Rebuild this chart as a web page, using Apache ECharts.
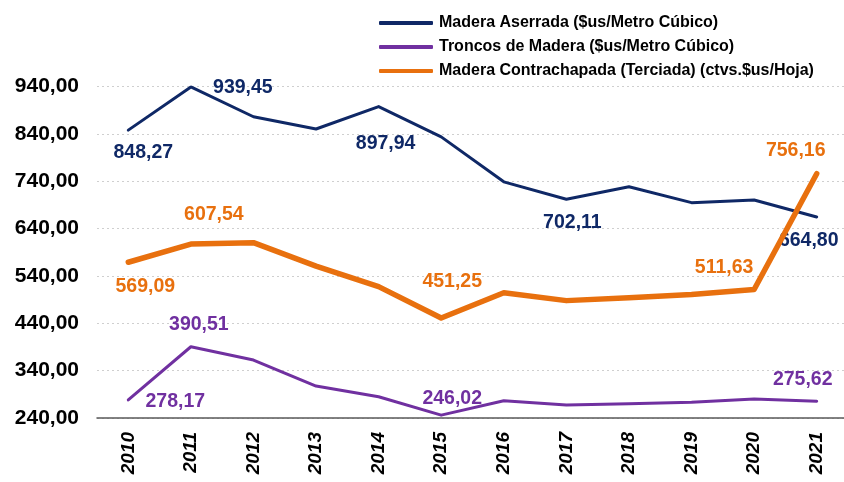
<!DOCTYPE html>
<html>
<head>
<meta charset="utf-8">
<script src="https://cdn.jsdelivr.net/npm/echarts@6/dist/echarts.min.js"></script>
<style>
html,body{margin:0;padding:0;background:#fff;}
#chart{width:844px;height:482px;}
</style>
</head>
<body>
<div id="chart"></div>
<script>
var years = ['2010','2011','2012','2013','2014','2015','2016','2017','2018','2019','2020','2021'];
var seriesNames = ['Madera Aserrada ($us/Metro Cúbico)','Troncos de Madera ($us/Metro Cúbico)','Madera Contrachapada (Terciada) (ctvs.$us/Hoja)'];
var aserrada = [848.27, 939.45, 876.5, 850.6, 897.94, 834.0, 739.0, 702.11, 728.5, 695.0, 700.5, 664.80];
var troncos = [278.17, 390.51, 362.5, 307.5, 285.0, 246.02, 276.5, 267.5, 270.0, 273.5, 280.0, 275.62];
var contrachapada = [569.09, 607.54, 610.4, 561.0, 517.5, 451.25, 504.5, 488.0, 494.0, 501.0, 511.63, 756.16];
var yTicks = [240, 340, 440, 540, 640, 740, 840, 940];

// which points carry a value label, with label offsets (dx, dy) from the point
var aserradaLabels = {0:[15,23], 1:[52,1], 4:[7,37], 7:[6,23], 11:[-8,24]};
var troncosLabels = {0:[47,2], 1:[8,-22], 5:[11,-17], 11:[-14,-22]};
var contraLabels = {0:[17,24], 1:[23,-29], 5:[11,-36], 10:[-30,-22], 11:[-21,-23]};

var colNavy = '#0f2866';
var colPurple = '#7030a0';
var colOrange = '#e8700e';
var FONT = 'Liberation Sans, Arial, sans-serif';

function fmt(v){ return v.toFixed(2).replace('.', ','); }

function buildData(values, labels, color){
  return values.map(function(v, i){
    var item = {value: v};
    if (labels[i]) {
      item.label = {
        show: true,
        position: 'inside',
        offset: labels[i],
        color: color,
        fontSize: 19.5,
        fontWeight: 'bold',
        fontFamily: FONT,
        align: 'center',
        verticalAlign: 'middle',
        formatter: function(p){ return fmt(p.value); }
      };
    }
    return item;
  });
}

function mkSeries(name, values, labels, color, width, z){
  return {
    name: name,
    type: 'line',
    data: buildData(values, labels, color),
    symbol: 'circle',
    symbolSize: 0,
    showSymbol: true,
    z: z,
    lineStyle: {color: color, width: width, cap: 'round', join: 'round'},
    itemStyle: {color: color},
    label: {show: false},
    emphasis: {disabled: true},
    animation: false
  };
}

var chart = echarts.init(document.getElementById('chart'), null, {renderer: 'canvas'});
chart.setOption({
  backgroundColor: '#ffffff',
  animation: false,
  legend: {
    orient: 'vertical',
    left: 379,
    top: 11,
    padding: 0,
    itemWidth: 54,
    itemHeight: 4,
    itemGap: 0,
    icon: 'roundRect',
    data: seriesNames,
    textStyle: {
      color: '#000', fontSize: 16, fontWeight: 'bold', lineHeight: 24,
      fontFamily: FONT, padding: [0,0,0,1]
    }
  },
  grid: {left: 97, width: 751, top: 86.7, bottom: 64, containLabel: false, outerBoundsMode: 'none'},
  xAxis: {
    type: 'category',
    data: years,
    boundaryGap: true,
    axisLine: {show: true, lineStyle: {color: '#595959', width: 1.5}},
    axisTick: {show: false},
    axisLabel: {
      rotate: 90, margin: 14, color: '#000', fontSize: 19, fontWeight: 'bold', fontStyle: 'italic',
      fontFamily: FONT, interval: 0
    },
    splitLine: {show: false}
  },
  yAxis: {
    type: 'value',
    min: yTicks[0],
    max: yTicks[yTicks.length - 1],
    interval: 100,
    axisLine: {show: false},
    axisTick: {show: false},
    axisLabel: {
      margin: 18, color: '#000', fontSize: 21, fontWeight: 'bold',
      fontFamily: FONT,
      formatter: function(v){ return fmt(v); }
    },
    splitLine: {show: true, lineStyle: {color: '#cfcfcf', type: [2, 3], width: 1}}
  },
  series: [
    mkSeries(seriesNames[0], aserrada, aserradaLabels, colNavy, 3, 3),
    mkSeries(seriesNames[1], troncos, troncosLabels, colPurple, 3, 2),
    mkSeries(seriesNames[2], contrachapada, contraLabels, colOrange, 5.5, 4)
  ]
});
</script>
</body>
</html>
